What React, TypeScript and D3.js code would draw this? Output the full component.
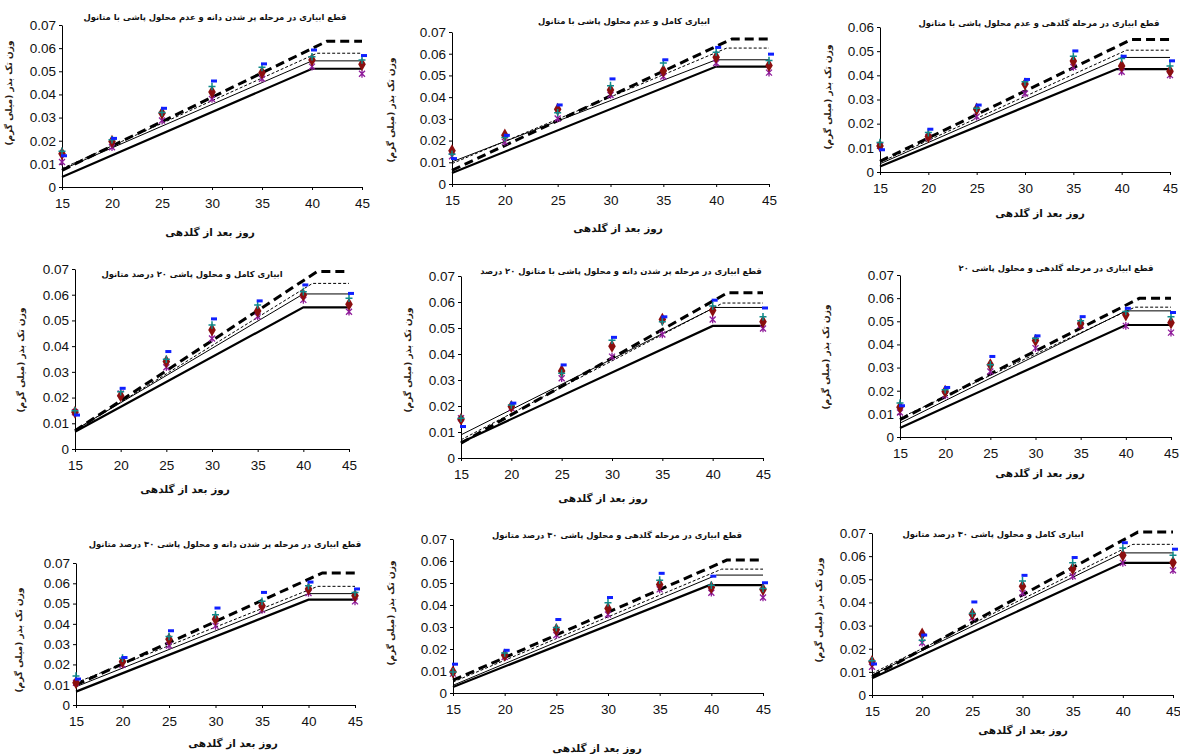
import React, { useEffect, useRef } from 'react';
import * as d3 from 'd3';

const days = [15, 20, 25, 30, 35, 40, 45];

const panelTitles = [
  'قطع ابیاری در مرحله پر شدن دانه و عدم محلول پاشی با متانول',
  'ابیاری کامل و عدم محلول پاشی با متانول',
  'قطع ابیاری در مرحله گلدهی و عدم محلول پاشی با متانول',
  'ابیاری کامل و محلول پاشی ۲۰ درصد متانول',
  'قطع ابیاری در مرحله پر شدن دانه و محلول پاشی با متانول ۲۰ درصد',
  'قطع ابیاری در مرحله گلدهی و محلول پاشی ۲۰',
  'قطع ابیاری در مرحله پر شدن دانه و محلول پاشی ۳۰ درصد متانول',
  'قطع ابیاری در مرحله گلدهی و محلول پاشی ۳۰ درصد متانول',
  'ابیاری کامل و محلول پاشی ۳۰ درصد متانول',
];

const yLabel = 'وزن تک بذر (میلی گرم)';
const xLabel = 'روز بعد از گلدهی';

const yMax = [0.07, 0.07, 0.06, 0.07, 0.07, 0.07, 0.07, 0.07, 0.07];

// observed values (markers), one row per panel, one value per day
const diamondSeries = [
  [0.0144, 0.0197, 0.0319, 0.041, 0.0494, 0.0549, 0.053],
  [0.0153, 0.0225, 0.0344, 0.0433, 0.0521, 0.0584, 0.0546],
  [0.0108, 0.0147, 0.026, 0.0364, 0.0459, 0.0439, 0.0417],
  [0.0143, 0.0207, 0.034, 0.0463, 0.0537, 0.0599, 0.0563],
  [0.0149, 0.0198, 0.0335, 0.043, 0.0533, 0.0568, 0.0524],
  [0.0129, 0.0197, 0.0312, 0.0417, 0.0489, 0.0528, 0.0494],
  [0.011, 0.0214, 0.0324, 0.0423, 0.0489, 0.0572, 0.0539],
  [0.0096, 0.0172, 0.0288, 0.0384, 0.0493, 0.048, 0.0471],
  [0.0144, 0.0263, 0.0349, 0.047, 0.0546, 0.0604, 0.0572],
];
const plusSeries = [
  [0.0154, 0.0204, 0.0322, 0.0434, 0.0517, 0.0563, 0.0549],
  [0.0137, 0.0214, 0.0328, 0.0453, 0.0557, 0.0607, 0.0569],
  [0.0122, 0.0163, 0.0264, 0.0373, 0.0479, 0.047, 0.0439],
  [0.0149, 0.0223, 0.0349, 0.0482, 0.056, 0.0612, 0.0586],
  [0.0153, 0.0204, 0.0326, 0.0453, 0.0524, 0.0585, 0.0543],
  [0.0147, 0.0204, 0.0312, 0.0427, 0.0502, 0.0542, 0.052],
  [0.0143, 0.0231, 0.0338, 0.0445, 0.0511, 0.0588, 0.0555],
  [0.0096, 0.0182, 0.0298, 0.041, 0.0513, 0.049, 0.0475],
  [0.0148, 0.0237, 0.0352, 0.0493, 0.0571, 0.0635, 0.0604],
];
const dashSeries = [
  [0.0135, 0.021, 0.034, 0.0458, 0.0532, 0.0592, 0.0568],
  [0.0117, 0.0224, 0.0364, 0.0484, 0.0572, 0.0629, 0.0598],
  [0.0092, 0.0177, 0.0277, 0.0383, 0.0501, 0.0479, 0.046],
  [0.0132, 0.0236, 0.0379, 0.0506, 0.0576, 0.0638, 0.0605],
  [0.0121, 0.0211, 0.0358, 0.0464, 0.0543, 0.0607, 0.0577],
  [0.0135, 0.0214, 0.0348, 0.0437, 0.052, 0.0556, 0.0538],
  [0.0128, 0.0234, 0.0366, 0.0478, 0.0555, 0.0606, 0.0572],
  [0.0131, 0.0194, 0.0334, 0.0434, 0.0544, 0.0531, 0.0501],
  [0.0134, 0.0259, 0.0402, 0.0517, 0.0594, 0.0658, 0.063],
];
const starSeries = [
  [0.0108, 0.0172, 0.0287, 0.038, 0.0468, 0.052, 0.0489],
  [0.0128, 0.0194, 0.0302, 0.041, 0.0495, 0.0557, 0.0513],
  [0.0108, 0.0144, 0.0229, 0.0325, 0.0435, 0.0415, 0.0401],
  [0.0143, 0.0216, 0.0318, 0.043, 0.0515, 0.058, 0.0534],
  [0.0153, 0.0192, 0.0307, 0.039, 0.0475, 0.0533, 0.0498],
  [0.0106, 0.018, 0.0283, 0.0384, 0.0484, 0.048, 0.0451],
  [0.011, 0.0198, 0.0293, 0.039, 0.0469, 0.0552, 0.0511],
  [0.0088, 0.0164, 0.0263, 0.0357, 0.0471, 0.0456, 0.0434],
  [0.0122, 0.0226, 0.0335, 0.0441, 0.0513, 0.0571, 0.0539],
];

// fitted linear-plateau lines: [value at day 15, break day, plateau value]
const thickDashFit = [
  [0.0072, 41.5, 0.063], [0.0063, 41.5, 0.0668], [0.0044, 41, 0.0548],
  [0.0071, 41.5, 0.069], [0.0057, 41.5, 0.0636], [0.0075, 41.5, 0.0599],
  [0.0099, 41.5, 0.0651], [0.0058, 41.5, 0.0604], [0.0079, 41.5, 0.0704],
];
const thinDashFit = [
  [0.008, 40.5, 0.0578], [0.0094, 41, 0.0626], [0.004, 40.5, 0.0504],
  [0.0072, 41, 0.0644], [0.007, 41, 0.0596], [0.0082, 41, 0.0561],
  [0.011, 41, 0.0585], [0.005, 41, 0.0563], [0.0093, 41, 0.0651],
];
const thinSolidFit = [
  [0.0075, 40, 0.0545], [0.0102, 40, 0.0572], [0.0034, 40, 0.0474],
  [0.0074, 40, 0.0603], [0.0089, 40.2, 0.0579], [0.006, 40, 0.0545],
  [0.009, 40, 0.0549], [0.0035, 40.5, 0.0536], [0.0086, 40, 0.0614],
];
const thickSolidFit = [
  [0.0043, 40, 0.0511], [0.0051, 40, 0.0541], [0.0023, 39.5, 0.0426],
  [0.0067, 40, 0.0551], [0.006, 40, 0.0508], [0.0039, 40, 0.0484],
  [0.0066, 40, 0.0519], [0.0027, 39.8, 0.049], [0.0072, 40, 0.0571],
];

// plot boxes and label anchors in page pixels
const layout = [
  { l: 62, r: 362, t: 25, b: 187, tx: 215, ty: 16, xx: 210, xy: 232, yx: 8, yy: 93 },
  { l: 452, r: 769, t: 32, b: 184, tx: 624, ty: 20, xx: 618, xy: 228, yx: 390, yy: 110 },
  { l: 880, r: 1170, t: 27, b: 172, tx: 1039, ty: 22, xx: 1040, xy: 213, yx: 827, yy: 97 },
  { l: 75, r: 349, t: 269, b: 449, tx: 192, ty: 273, xx: 185, xy: 489, yx: 20, yy: 360 },
  { l: 461, r: 763, t: 276, b: 458, tx: 621, ty: 270, xx: 603, xy: 498, yx: 407, yy: 360 },
  { l: 900, r: 1171, t: 275, b: 437, tx: 1056, ty: 267, xx: 1040, xy: 473, yx: 825, yy: 357 },
  { l: 76, r: 355, t: 563, b: 705, tx: 225, ty: 543, xx: 233, xy: 743, yx: 18, yy: 640 },
  { l: 453, r: 763, t: 539, b: 693, tx: 617, ty: 534, xx: 597, xy: 748, yx: 390, yy: 613 },
  { l: 872, r: 1173, t: 533, b: 695, tx: 993, ty: 533, xx: 1023, xy: 730, yx: 818, yy: 610 },
];

const arabicFont = "'DejaVu Sans', sans-serif";
const numFont = "'Liberation Sans', Arial, sans-serif";

const App = () => {
  const ref = useRef<SVGSVGElement>(null);

  useEffect(() => {
    const svg = d3.select(ref.current);
    svg.selectAll('*').remove();

    layout.forEach((box, i) => {
      const x = d3.scaleLinear().domain([15, 45]).range([box.l, box.r]);
      const y = d3.scaleLinear().domain([0, yMax[i]]).range([box.b, box.t]);
      const g = svg.append('g');

      const yTicks = d3.range(0, Math.round(yMax[i] * 100) + 1).map(k => k / 100);
      const yAxis = g.append('g')
        .attr('transform', `translate(${box.l},0)`)
        .call(d3.axisLeft(y).tickValues(yTicks).tickSize(3).tickSizeOuter(0).tickPadding(3)
          .tickFormat(d => (+d === 0 ? '0' : d3.format('.2f')(+d))));
      const xAxis = g.append('g')
        .attr('transform', `translate(0,${box.b})`)
        .call(d3.axisBottom(x).tickValues(days).tickSize(3).tickSizeOuter(0).tickPadding(8)
          .tickFormat(d3.format('d')));
      [yAxis, xAxis].forEach(a => {
        a.attr('font-family', numFont).attr('font-size', 13.5);
        a.selectAll('path, line').attr('stroke', '#000');
        a.selectAll('text').attr('fill', '#111');
      });

      // fitted lines
      const line = d3.line<number[]>().x(d => x(d[0])).y(d => y(d[1]));
      const fitPts = (f: number[]) => [[15, f[0]], [f[1], f[2]], [45, f[2]]];
      g.append('path').attr('d', line(fitPts(thickSolidFit[i])))
        .attr('fill', 'none').attr('stroke', '#000').attr('stroke-width', 2.2);
      g.append('path').attr('d', line(fitPts(thinSolidFit[i])))
        .attr('fill', 'none').attr('stroke', '#000').attr('stroke-width', 1);
      g.append('path').attr('d', line(fitPts(thinDashFit[i])))
        .attr('fill', 'none').attr('stroke', '#000').attr('stroke-width', 1)
        .attr('stroke-dasharray', '3,2');
      g.append('path').attr('d', line(fitPts(thickDashFit[i])))
        .attr('fill', 'none').attr('stroke', '#000').attr('stroke-width', 3)
        .attr('stroke-dasharray', '9,5');

      // markers
      const diamond = d3.symbol().type(d3.symbolDiamond).size(50)();
      days.forEach((day, j) => {
        const cx = x(day);
        g.append('path')
          .attr('d', 'M-3,-3L3,3M-3,3L3,-3M0,-3.8V3.8')
          .attr('transform', `translate(${cx},${y(starSeries[i][j])})`)
          .attr('stroke', '#8e1a9a').attr('stroke-width', 1.3).attr('fill', 'none');
        g.append('path')
          .attr('d', diamond)
          .attr('transform', `translate(${cx},${y(diamondSeries[i][j])})`)
          .attr('fill', '#8b0f0f');
        g.append('path')
          .attr('d', 'M-3.5,0H3.5M0,-3.8V3.8')
          .attr('transform', `translate(${cx},${y(plusSeries[i][j])})`)
          .attr('stroke', '#0f8a8a').attr('stroke-width', 1.5).attr('fill', 'none');
        g.append('rect')
          .attr('x', cx - 1).attr('y', y(dashSeries[i][j]) - 1.5)
          .attr('width', 6).attr('height', 3)
          .attr('fill', '#1020ff');
      });

      // texts
      g.append('text')
        .attr('x', box.tx).attr('y', box.ty + 4)
        .attr('text-anchor', 'middle').attr('direction', 'rtl')
        .attr('font-family', arabicFont).attr('font-size', 8.4).attr('font-weight', 'bold')
        .attr('fill', '#111')
        .text(panelTitles[i]);
      g.append('text')
        .attr('x', box.xx).attr('y', box.xy + 4)
        .attr('text-anchor', 'middle').attr('direction', 'rtl')
        .attr('font-family', arabicFont).attr('font-size', 10.5).attr('font-weight', 'bold')
        .attr('fill', '#111')
        .text(xLabel);
      g.append('text')
        .attr('transform', `translate(${box.yx + 4},${box.yy}) rotate(-90)`)
        .attr('text-anchor', 'middle').attr('direction', 'rtl')
        .attr('font-family', arabicFont).attr('font-size', 9).attr('font-weight', 'bold')
        .attr('fill', '#2a1a12')
        .text(yLabel);
    });
  }, []);

  return (
    <svg
      ref={ref}
      width={1180}
      height={754}
      style={{ position: 'absolute', left: 0, top: 0, background: '#fff' }}
    />
  );
};

export default App;
